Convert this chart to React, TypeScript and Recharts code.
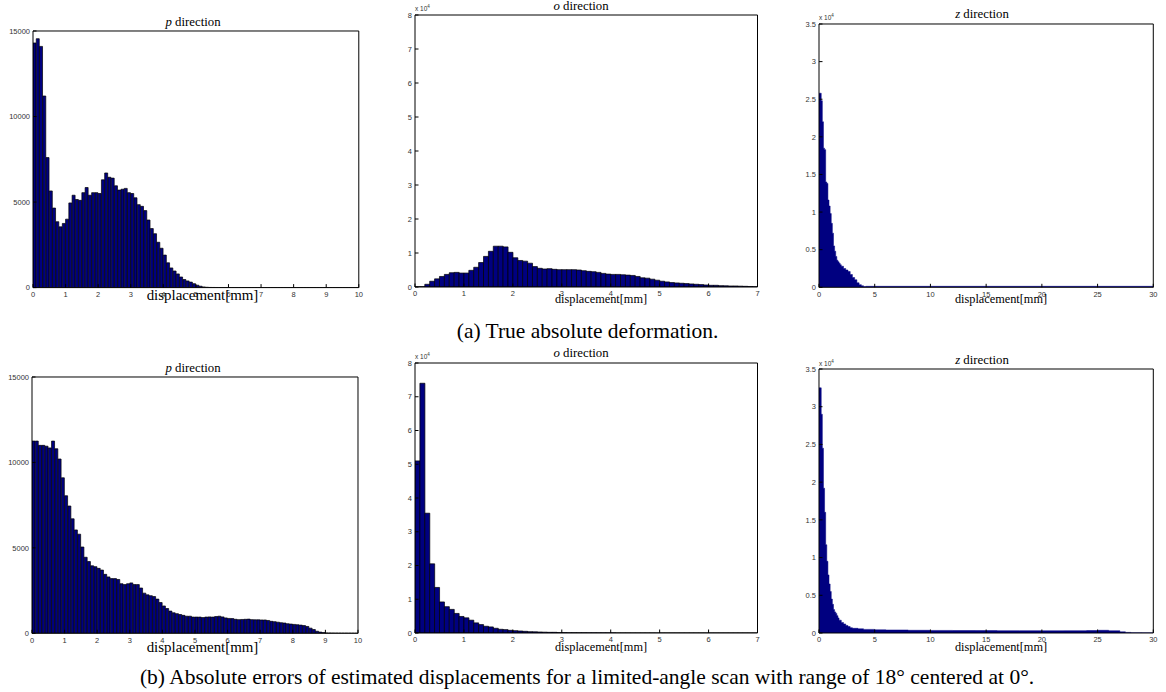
import React from 'react';
import { ComposedChart, Bar, Area, XAxis, YAxis } from 'recharts';

// ---------- data ----------
const BIN = 0.1;

const P_TRUE = [
  14300, 14550, 14100, 11200, 7600, 5650, 4650, 3850, 3550, 3750,
  4000, 4950, 5400, 5150, 5100, 5550, 5850, 5400, 5550, 5550,
  5500, 6300, 6700, 6450, 6400, 5950, 5700, 5750, 5800, 5550,
  5500, 5250, 4850, 4750, 4500, 3950, 3450, 3150, 2650, 2300,
  1900, 1450, 1150, 970, 800, 620, 470, 390, 320, 230,
  140, 80, 40, 20, 10, 8, 6, 5, 5, 5,
  5, 5, 5, 5, 5, 5, 5, 5, 5, 5,
  5, 5, 5, 5, 5, 5, 5, 5, 5, 5,
  5, 5, 5, 5, 5, 5, 5, 5, 5, 5,
  5, 5, 5, 5, 5, 5, 5, 5, 5, 5,
];

const P_ERR = [
  11250, 11250, 11000, 11000, 10950, 10850, 11250, 10800, 10200, 9100,
  8050, 7450, 6700, 6050, 5800, 5050, 4450, 4200, 3950, 3900,
  3800, 3700, 3450, 3300, 3200, 3200, 3150, 2900, 2850, 2900,
  2950, 2850, 2850, 2650, 2350, 2250, 2200, 2150, 2000, 1800,
  1600, 1450, 1300, 1200, 1150, 1100, 1050, 1000, 1000, 950,
  950, 950, 920, 950, 960, 950, 980, 1000, 960, 900,
  870, 860, 820, 800, 810, 820, 830, 800, 790, 790,
  780, 780, 750, 700, 680, 650, 620, 600, 560, 540,
  520, 500, 480, 450, 400, 300, 220, 120, 70, 40,
  20, 15, 10, 8, 6, 5, 4, 3, 2, 1,
];

const O_TRUE = [
  50, 100, 800, 1700, 2400, 3100, 3700, 4200, 4300, 4100,
  4100, 4900, 5800, 7200, 9000, 10500, 12000, 12000, 11800, 10200,
  8600, 7800, 7600, 7000, 6000, 5500, 5300, 5400, 5200, 5100,
  5100, 5100, 5100, 5000, 4800, 4600, 4500, 4300, 4000, 3800,
  3700, 3700, 3600, 3500, 3400, 3100, 2700, 2600, 2300, 2000,
  1700, 1500, 1300, 1200, 1100, 1000, 900, 800, 700, 600,
  500, 500, 400, 350, 300, 300, 250, 200, 150, 100,
];

const O_ERR = [
  51000, 74000, 35500, 20500, 13500, 9200, 7800, 7000, 5800, 4900,
  4500, 3800, 3000, 2500, 2000, 1800, 1400, 1100, 1000, 800,
  700, 600, 500, 400, 350, 300, 250, 200, 200, 150,
  120, 100, 100, 80, 80, 60, 60, 50, 50, 40,
  40, 30, 30, 30, 20, 20, 20, 20, 20, 10,
  10, 10, 10, 10, 10, 10, 10, 10, 10, 10,
  10, 10, 10, 10, 10, 10, 10, 10, 10, 10,
];

const Z_TRUE_X = [0, 0.1, 0.2, 0.3, 0.4, 0.5, 0.6, 0.7, 0.8, 0.9, 1.0, 1.1, 1.2, 1.3, 1.4, 1.5, 1.6, 1.7, 1.8, 1.9, 2.0, 2.2, 2.4, 2.6, 2.8, 3.0, 3.2, 3.4, 3.6, 3.8, 4.0, 4.2, 4.5, 30];
const Z_TRUE_Y = [25800, 25800, 24800, 22000, 18500, 18300, 14000, 13800, 11600, 10800, 9800, 8500, 7200, 5500, 4800, 4100, 3600, 3400, 3200, 3000, 2800, 2500, 2300, 2100, 1700, 1300, 1000, 600, 350, 200, 100, 130, 130, 130];

const Z_ERR_X = [0, 0.1, 0.2, 0.3, 0.4, 0.5, 0.6, 0.7, 0.8, 0.9, 1.0, 1.1, 1.2, 1.3, 1.4, 1.5, 1.6, 1.7, 1.8, 2.0, 2.2, 2.4, 2.6, 2.8, 3.0, 3.5, 4.0, 5, 6, 8, 10, 12, 14, 16, 18, 20, 22, 24, 25, 26, 27, 27.5, 28, 29, 30];
const Z_ERR_Y = [32500, 32500, 29000, 24500, 19200, 16000, 11700, 9500, 7700, 6500, 5500, 4500, 3800, 3100, 2800, 2600, 2300, 2000, 1700, 1400, 1200, 1000, 850, 700, 620, 550, 480, 420, 400, 360, 340, 330, 320, 310, 310, 300, 310, 330, 360, 300, 150, 80, 40, 20, 20];

// tick labels
const P_XTICKS = [0, 1, 2, 3, 4, 5, 6, 7, 8, 9, 10];
const P_YTICKS = [0, 5000, 10000, 15000];
const O_XTICKS = [0, 1, 2, 3, 4, 5, 6, 7];
const O_YTICKS = [0, 10000, 20000, 30000, 40000, 50000, 60000, 70000, 80000];
const Z_XTICKS = [0, 5, 10, 15, 20, 25, 30];
const Z_YTICKS = [0, 5000, 10000, 15000, 20000, 25000, 30000, 35000];

const TITLES = ['p', 'o', 'z'];
const XLABEL = 'displacement[mm]';
const CAPTION_A = '(a) True absolute deformation.';
const CAPTION_B = '(b) Absolute errors of estimated displacements for a limited-angle scan with range of 18° centered at 0°.';

// ---------- styles ----------
const NAVY = '#000080';
const SANS = "'Liberation Sans', Arial, Helvetica, sans-serif";
const SERIF = "'Liberation Serif', 'Times New Roman', Times, serif";
const TICK_STYLE = { fill: '#333', fontSize: 7.5, fontFamily: SANS };

type PanelProps = {
  px: number; py: number; pw: number; ph: number;
  xMax: number; xTicks: number[];
  yMax: number; yTicks: number[];
  sci: boolean;
  kind: 'bar' | 'area';
  data: { x: number; v: number }[];
};

function Panel(p: PanelProps) {
  const W = p.pw + 50;
  const H = p.ph + 40;
  const fmt = (v: number) => (p.sci ? String(v / 10000) : String(v));
  return (
    <div style={{ position: 'absolute', left: p.px - 40, top: p.py - 10, width: W, height: H }}>
      <ComposedChart
        width={W}
        height={H}
        data={p.data}
        margin={{ top: 9, right: 9, bottom: 10, left: 10 }}
        barCategoryGap={0}
        barGap={0}
      >
        <XAxis
          xAxisId="b"
          dataKey="x"
          type="number"
          domain={[0, p.xMax]}
          ticks={p.xTicks}
          interval={0}
          allowDataOverflow
          height={20}
          tickSize={-3.5}
          tickMargin={7.5}
          tick={TICK_STYLE}
          axisLine={{ stroke: '#000', strokeWidth: 1 }}
          tickLine={{ stroke: '#000', strokeWidth: 1 }}
        />
        <XAxis
          xAxisId="t"
          orientation="top"
          type="number"
          domain={[0, p.xMax]}
          ticks={p.xTicks}
          interval={0}
          allowDataOverflow
          height={1}
          tickSize={-3.5}
          tick={false}
          axisLine={{ stroke: '#000', strokeWidth: 1 }}
          tickLine={{ stroke: '#000', strokeWidth: 1 }}
        />
        <YAxis
          yAxisId="l"
          type="number"
          domain={[0, p.yMax]}
          ticks={p.yTicks}
          interval={0}
          allowDataOverflow
          width={30}
          tickSize={-3.5}
          tickMargin={6.5}
          tickFormatter={fmt}
          tick={TICK_STYLE}
          axisLine={{ stroke: '#000', strokeWidth: 1 }}
          tickLine={{ stroke: '#000', strokeWidth: 1 }}
        />
        <YAxis
          yAxisId="r"
          orientation="right"
          type="number"
          domain={[0, p.yMax]}
          ticks={p.yTicks}
          interval={0}
          allowDataOverflow
          width={1}
          tickSize={-3.5}
          tick={false}
          axisLine={{ stroke: '#000', strokeWidth: 1 }}
          tickLine={{ stroke: '#000', strokeWidth: 1 }}
        />
        {p.kind === 'bar' ? (
          <Bar
            xAxisId="b"
            yAxisId="l"
            dataKey="v"
            fill={NAVY}
            stroke="#000"
            strokeWidth={0.7}
            isAnimationActive={false}
          />
        ) : (
          <Area
            xAxisId="b"
            yAxisId="l"
            dataKey="v"
            type="stepAfter"
            fill={NAVY}
            fillOpacity={1}
            stroke={NAVY}
            strokeWidth={0.5}
            dot={false}
            activeDot={false}
            isAnimationActive={false}
          />
        )}
      </ComposedChart>
    </div>
  );
}

const bins = (arr: number[]) => arr.map((v, i) => ({ x: (i + 0.5) * BIN, v }));
const steps = (xs: number[], ys: number[]) => xs.map((x, i) => ({ x, v: ys[i] }));

const DY = 346; // vertical offset of the second row

export default function App() {
  const titleStyle = { fontFamily: SERIF, fontSize: 12.8, fill: '#000' };
  const sciText = (x: number, y: number) => (
    <text x={x} y={y} fontFamily={SANS} fontSize={6.5} fill="#333">
      x 10<tspan dy={-3} fontSize={4.5}>4</tspan>
    </text>
  );
  const title = (letter: string, x: number, y: number) => (
    <text x={x} y={y} textAnchor="middle" {...titleStyle}>
      <tspan fontStyle="italic">{letter}</tspan>
      {' direction'}
    </text>
  );
  const xl = (x: number, y: number, fs: number) => (
    <text x={x} y={y} textAnchor="middle" fontFamily={SERIF} fontSize={fs} fill="#000">{XLABEL}</text>
  );
  return (
    <div style={{ position: 'absolute', left: 0, top: 0, width: 1166, height: 692, background: '#fff', overflow: 'hidden' }}>
      {/* row (a) */}
      <Panel px={32.5} py={30.7} pw={325.8} ph={256.6} xMax={10} xTicks={P_XTICKS} yMax={15000} yTicks={P_YTICKS} sci={false} kind="bar" data={bins(P_TRUE)} />
      <Panel px={415} py={15} pw={342.5} ph={272} xMax={7} xTicks={O_XTICKS} yMax={80000} yTicks={O_YTICKS} sci kind="bar" data={bins(O_TRUE)} />
      <Panel px={819} py={24} pw={334.3} ph={263.3} xMax={30} xTicks={Z_XTICKS} yMax={35000} yTicks={Z_YTICKS} sci kind="area" data={steps(Z_TRUE_X, Z_TRUE_Y)} />
      {/* row (b) */}
      <Panel px={32.3} py={30.7 + DY} pw={326} ph={256.3} xMax={10} xTicks={P_XTICKS} yMax={15000} yTicks={P_YTICKS} sci={false} kind="bar" data={bins(P_ERR)} />
      <Panel px={415} py={15 + DY + 1.5} pw={342.5} ph={270} xMax={7} xTicks={O_XTICKS} yMax={80000} yTicks={O_YTICKS} sci kind="bar" data={bins(O_ERR)} />
      <Panel px={819} py={24 + DY - 0.7} pw={334.3} ph={264} xMax={30} xTicks={Z_XTICKS} yMax={35000} yTicks={Z_YTICKS} sci kind="area" data={steps(Z_ERR_X, Z_ERR_Y)} />

      <svg width={1166} height={692} style={{ position: 'absolute', left: 0, top: 0, pointerEvents: 'none' }}>
        {title(TITLES[0], 193, 26)}
        {title(TITLES[1], 581, 9.8)}
        {title(TITLES[2], 982, 18)}
        {title(TITLES[0], 193, 26 + DY)}
        {title(TITLES[1], 581, 9.3 + DY + 1.5)}
        {title(TITLES[2], 982, 18 + DY)}

        {sciText(415, 11.2)}
        {sciText(819, 20.2)}
        {sciText(415, 11.2 + DY + 1.5)}
        {sciText(819, 20.2 + DY)}

        {xl(202.5, 300, 14.9)}
        {xl(601, 302.5, 12.3)}
        {xl(1001, 302.5, 12.3)}
        {xl(202.5, 652, 14.9)}
        {xl(601, 651, 12.3)}
        {xl(1001, 651, 12.3)}

        <text x={587.5} y={337.5} textAnchor="middle" fontFamily={SERIF} fontSize={21.5} fill="#000">{CAPTION_A}</text>
        <text x={587} y={684} textAnchor="middle" fontFamily={SERIF} fontSize={21.5} fill="#000">{CAPTION_B}</text>
      </svg>
    </div>
  );
}
